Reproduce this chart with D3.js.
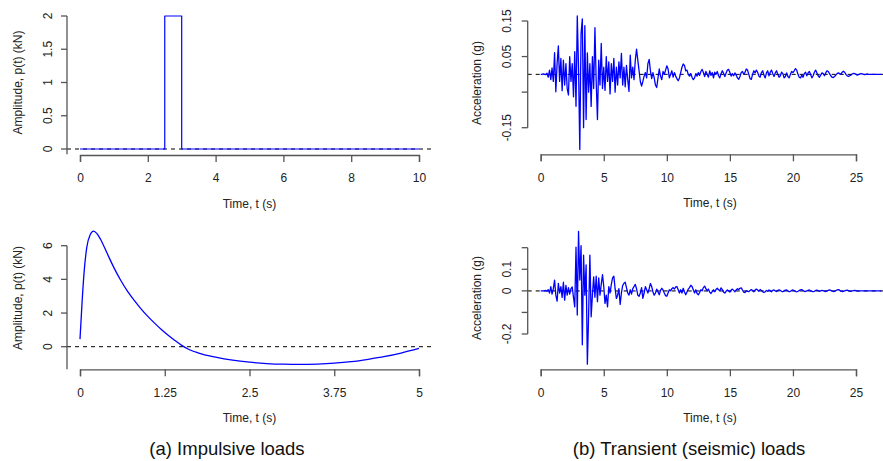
<!DOCTYPE html>
<html><head><meta charset="utf-8">
<script src="https://cdn.jsdelivr.net/npm/d3@7"></script>
<style>
html,body{margin:0;padding:0;background:#fff;}
svg{display:block;font-family:"Liberation Sans",Arial,Helvetica,sans-serif;}
</style></head>
<body>
<svg id="c" width="883" height="461"></svg>
<script>
// ---------- DATA ----------
// (a) top: rectangular pulse
const pulseT = [0, 2.5, 2.5, 3, 3, 10];
const pulseP = [0, 0, 2, 2, 0, 0];
const pulseXTicks = [0, 2, 4, 6, 8, 10];
const pulseYTicks = [0, 0.5, 1, 1.5, 2];
const pulseYLabels = ["0", "0.5", "1", "1.5", "2"];

// (a) bottom: blast-type pulse
const blastT = [0, 0.03, 0.06, 0.1, 0.15, 0.2, 0.25, 0.3, 0.4, 0.5, 0.6, 0.7, 0.8, 0.9, 1.0, 1.1, 1.2, 1.3, 1.4, 1.5, 1.6, 1.75, 2.0, 2.25, 2.5, 2.75, 3.0, 3.25, 3.5, 3.75, 4.0, 4.25, 4.5, 4.75, 5.0];
const blastP = [0.45, 2.6, 4.4, 5.9, 6.65, 6.87, 6.72, 6.4, 5.55, 4.7, 3.95, 3.3, 2.75, 2.25, 1.8, 1.4, 1.02, 0.68, 0.37, 0.08, -0.15, -0.38, -0.62, -0.8, -0.92, -1.0, -1.04, -1.05, -1.03, -0.98, -0.89, -0.75, -0.58, -0.36, -0.1];
const blastXTicks = [0, 1.25, 2.5, 3.75, 5];
const blastXLabels = ["0", "1.25", "2.5", "3.75", "5"];
const blastYTicks = [0, 2, 4, 6];
const blastYLabels = ["0", "2", "4", "6"];

// (b) seismic records, sampled every 0.1 s
const seisDt = 0.1;
const seis1 = [
 0, 0, 0.001, 0, -0.001, 0.003, -0.008, 0.012, -0.015, 0.018,
 -0.02, 0.061, -0.049, 0.03, 0.08, -0.02, 0.045, -0.046, 0.04, -0.03,
 0.03, -0.04, -0.058, 0.05, -0.02, 0.03, -0.063, 0.064, -0.09, 0.164,
 0.02, -0.211, 0.115, 0.156, -0.15, 0.137, -0.127, 0.06, -0.05, 0.03,
 -0.09, 0.05, -0.04, 0.131, -0.02, -0.127, 0.04, -0.03, 0.087, -0.04,
 0.02, -0.045, 0.05, -0.02, 0.035, -0.055, 0.03, -0.02, 0.045, -0.05,
 0.02, -0.03, 0.035, -0.01, 0.059, -0.03, 0.02, -0.035, 0.025, -0.015,
 -0.048, 0.054, -0.01, 0.02, -0.015, 0.04, 0.071, 0.04, 0.01, -0.02,
 -0.033, -0.02, -0.005, 0.005, -0.01, 0.03, 0.042, 0.01, -0.012, 0.005,
 -0.01, -0.03, -0.037, -0.01, 0.015, -0.005, -0.015, 0.008, 0, 0.012,
 0.024, 0.015, -0.01, 0, 0.01, -0.008, 0.005, -0.005, -0.012, -0.018,
 -0.01, 0.005, 0.02, 0.029, 0.025, 0.01, 0.012, 0, -0.005, 0.002,
 -0.008, -0.015, -0.01, 0.002, -0.005, 0.005, -0.003, 0.008, 0.014, 0.005,
 -0.006, 0.008, 0, -0.008, 0.01, -0.003, 0.005, -0.01, 0.006, 0,
 0.008, -0.004, -0.01, 0.002, 0.01, 0.003, -0.006, 0.004, 0.012, 0.014,
 0.005, -0.005, 0.002, -0.004, 0.004, -0.002, -0.01, -0.014, -0.006, 0.005,
 0.008, 0, 0.006, 0.015, 0.012, 0, -0.012, -0.014, 0, 0.01,
 0.004, 0.012, 0.006, -0.005, -0.008, 0.005, 0.01, -0.002, -0.01, 0.004,
 0.01, -0.004, 0.006, 0.012, 0.002, -0.006, 0.004, 0.01, 0, -0.008,
 -0.004, 0.006, 0.002, -0.01, -0.006, 0.004, -0.006, -0.01, 0, 0.008,
 0.005, 0.01, 0.016, 0.012, 0, -0.008, -0.01, -0.002, -0.008, 0.002,
 0.006, -0.004, 0.004, 0.008, 0, -0.01, -0.004, 0.006, 0.012, 0.004,
 -0.004, -0.008, -0.002, 0.004, 0.002, -0.004, 0.004, 0.01, 0.008, 0.002,
 -0.004, -0.008, -0.009, -0.006, -0.002, 0.002, 0.004, 0.002, 0, 0.006,
 0.009, 0.006, 0, -0.004, -0.006, -0.004, -0.002, 0.001, 0.003, 0.002,
 0, -0.002, -0.001, 0.001, 0.002, 0.001, 0, -0.001, 0, 0.001,
 0, 0, 0, 0, 0, 0, 0, 0, 0, 0,
 0
];
const seis2 = [
 0, 0, 0, 0, 0.002, -0.002, 0.005, -0.01, 0.02, -0.015,
 0.01, 0.05, -0.02, -0.048, 0.035, -0.01, 0.02, -0.03, 0.04, -0.043,
 0.025, -0.02, 0.015, -0.015, 0.01, 0.018, -0.03, -0.074, 0.203, -0.112,
 0.275, 0.05, 0.21, -0.25, 0.165, -0.02, 0.12, -0.34, -0.11, 0.165,
 -0.12, -0.02, 0.065, -0.03, 0.068, -0.05, 0.06, -0.02, 0.03, 0.075,
 0.02, -0.058, -0.02, -0.074, 0.02, -0.01, 0.03, 0.06, 0.068, 0.01,
 -0.035, -0.02, 0.01, -0.063, -0.01, 0.025, 0.035, 0.04, 0.015, -0.01,
 -0.02, 0.005, -0.015, 0.01, 0.02, 0.03, 0.01, -0.02, -0.025, -0.01,
 0.015, -0.035, -0.01, 0.02, 0.005, -0.01, 0.01, 0.034, 0.02, -0.005,
 -0.02, -0.01, 0.008, -0.005, -0.018, 0.002, 0.012, 0.004, -0.01, -0.022,
 -0.025, -0.01, 0.005, 0, 0.01, 0.015, 0.008, 0.018, 0.02, 0.005,
 -0.01, 0.005, -0.01, 0.012, -0.005, -0.018, -0.005, 0.008, 0.015, 0.026,
 0.02, 0.005, -0.01, 0.005, -0.012, -0.018, -0.008, 0.005, 0, 0.015,
 0.022, 0.01, 0, 0.008, -0.006, -0.012, -0.004, 0.005, -0.004, 0.006,
 0.012, 0.005, 0, 0.014, 0.006, -0.006, -0.01, -0.002, 0.004, 0,
 -0.006, 0.004, 0.008, 0.002, -0.004, 0.004, 0.01, 0.006, 0.012, 0.014,
 0.004, -0.006, -0.008, 0, -0.002, -0.004, 0.002, 0.006, 0.002, -0.004,
 0.004, 0.008, 0.004, -0.002, 0.006, 0.002, -0.004, -0.008, -0.004, 0.002,
 -0.002, 0.004, 0.001, -0.004, 0.002, 0.004, 0, -0.003, 0.002, 0.004,
 0.002, -0.002, -0.004, 0, 0.003, 0.004, 0, -0.004, -0.002, 0.002,
 0.004, 0.001, -0.003, -0.005, -0.002, 0.002, 0.004, 0.006, 0.002, -0.002,
 -0.003, 0, 0.002, 0.004, 0, -0.002, -0.004, -0.002, 0.002, 0.003,
 0.001, -0.002, 0, 0.002, 0.001, -0.002, -0.003, 0, 0.002, 0.004,
 0.002, -0.001, -0.003, -0.002, 0.001, 0.004, 0.006, 0.003, -0.001, -0.003,
 -0.002, 0, 0.002, 0.003, 0.001, -0.001, -0.002, 0, 0.001, 0.002,
 0.001, 0, -0.001, 0, 0, 0, 0, 0, 0, 0,
 0, 0, 0, 0, 0, 0, 0, 0, 0, 0,
 0
];
const seisXTicks = [0, 5, 10, 15, 20, 25];
const seis1YTicks = [-0.15, -0.05, 0.05, 0.15];
const seis1YLabels = ["-0.15", "", "0.05", "0.15"];
const seis2YTicks = [-0.2, -0.1, 0, 0.1, 0.2];
const seis2YLabels = ["-0.2", "", "0", "0.1", ""];

const xTitle = "Time, t (s)";
const ampTitle = "Amplitude, p(t) (kN)";
const accTitle = "Acceleration (g)";
const captions = ["(a) Impulsive loads", "(b) Transient (seismic) loads"];

// ---------- DRAW ----------
const svg = d3.select("#c");
const AX = "#555", TXT = "#222", BLUE = "#0000ff";

function panel(o) {
  const g = svg.append("g");
  const x = d3.scaleLinear().domain(o.xd).range(o.xr);
  const y = d3.scaleLinear().domain(o.yd).range(o.yr);
  // zero reference
  g.append("line").attr("x1", o.axX).attr("x2", o.zeroEnd)
    .attr("y1", y(0)).attr("y2", y(0))
    .attr("stroke", o.zeroColor).attr("stroke-width", o.zeroW)
    .attr("stroke-dasharray", "4,4");
  // data line
  const pts = o.t.map((t, i) => [t, o.v[i]]);
  g.append("path").datum(pts)
    .attr("d", d3.line().x(d => x(d[0])).y(d => y(d[1])).curve(o.curve || d3.curveLinear))
    .attr("fill", "none").attr("stroke", BLUE).attr("stroke-width", o.lw || 1.2)
    .attr("stroke-linejoin", "round");
  // x axis
  const xa = g.append("g").attr("transform", `translate(0,${o.axY})`)
    .call(d3.axisBottom(x).tickValues(o.xt).tickSize(7).tickPadding(5)
      .tickFormat((d, i) => o.xl ? o.xl[i] : String(d)));
  xa.select(".domain").attr("stroke", AX).attr("stroke-width", 1.3);
  xa.selectAll(".tick line").attr("stroke", AX).attr("stroke-width", 1.3);
  xa.selectAll(".tick text").attr("fill", TXT).attr("font-size", 12).attr("dy", null)
    .attr("y", 27.4 - 0);
  xa.attr("font-family", null);
  // y axis
  const ya = g.append("g").attr("transform", `translate(${o.axX},0)`);
  ya.append("line").attr("x1", 0).attr("x2", 0)
    .attr("y1", y(d3.max(o.yt))).attr("y2", o.yAxisBottom != null ? o.yAxisBottom : y(d3.min(o.yt)))
    .attr("stroke", AX).attr("stroke-width", 1.3);
  o.yt.forEach((v, i) => {
    ya.append("line").attr("x1", -6).attr("x2", 0).attr("y1", y(v)).attr("y2", y(v))
      .attr("stroke", AX).attr("stroke-width", 1.3);
    if (o.yl[i]) ya.append("text").attr("transform", `translate(${-o.ylOff},${y(v)}) rotate(-90)`)
      .attr("text-anchor", "middle").attr("font-size", 12).attr("fill", TXT).text(o.yl[i]);
  });
  // titles
  g.append("text").attr("x", o.xTitleX).attr("y", o.axY + 52.7).attr("text-anchor", "middle")
    .attr("font-size", 12).attr("fill", TXT).text(xTitle);
  g.append("text").attr("transform", `translate(${o.yTitleX},${o.yTitleY}) rotate(-90)`)
    .attr("text-anchor", "middle").attr("font-size", 12).attr("fill", TXT).text(o.yTitle);
}

// (a) top
panel({ t: pulseT, v: pulseP, xd: [0, 10], xr: [80, 419], yd: [0, 2], yr: [149, 16],
  axY: 155, axX: 67, yAxisBottom: 154.3, zeroEnd: 432.6, zeroColor: "#000", zeroW: 1,
  xt: pulseXTicks, yt: pulseYTicks, yl: pulseYLabels, ylOff: 15.5,
  xTitleX: 249.5, yTitleX: 21.5, yTitleY: 82.5, yTitle: ampTitle, lw: 1.2 });
// (a) bottom
panel({ t: blastT, v: blastP, xd: [0, 5], xr: [80, 419], yd: [0, 6], yr: [346.7, 245.7],
  axY: 369.3, axX: 67, yAxisBottom: 369.3, zeroEnd: 432.6, zeroColor: "#333", zeroW: 1.2,
  xt: blastXTicks, xl: blastXLabels, yt: blastYTicks, yl: blastYLabels, ylOff: 15.5,
  xTitleX: 249.5, yTitleX: 21.5, yTitleY: 298, yTitle: ampTitle, lw: 1.3, curve: d3.curveMonotoneX });
// (b) top
const seisT1 = seis1.map((_, i) => +(i * seisDt).toFixed(2));
const seisT2 = seis2.map((_, i) => +(i * seisDt).toFixed(2));
panel({ t: seisT1, v: seis1, xd: [0, 25], xr: [540.7, 856], yd: [-0.15, 0.15], yr: [127.7, 21],
  axY: 154.3, axX: 527.7, zeroEnd: 883, zeroColor: "#000", zeroW: 1,
  xt: seisXTicks, yt: seis1YTicks, yl: seis1YLabels, ylOff: 16.5,
  xTitleX: 710, yTitleX: 480.5, yTitleY: 83, yTitle: accTitle, lw: 1.3 });
// (b) bottom
panel({ t: seisT2, v: seis2, xd: [0, 25], xr: [540.7, 856], yd: [-0.2, 0.2], yr: [334, 247.7],
  axY: 369.3, axX: 527.7, zeroEnd: 883, zeroColor: "#666", zeroW: 1.8,
  xt: seisXTicks, yt: seis2YTicks, yl: seis2YLabels, ylOff: 16.5,
  xTitleX: 710, yTitleX: 480.5, yTitleY: 298, yTitle: accTitle, lw: 1.3 });

// captions
svg.append("text").attr("x", 227).attr("y", 455).attr("text-anchor", "middle")
  .attr("font-size", 18.5).attr("fill", "#111").text(captions[0]);
svg.append("text").attr("x", 689).attr("y", 455).attr("text-anchor", "middle")
  .attr("font-size", 18.5).attr("fill", "#111").text(captions[1]);
</script>
</body></html>
